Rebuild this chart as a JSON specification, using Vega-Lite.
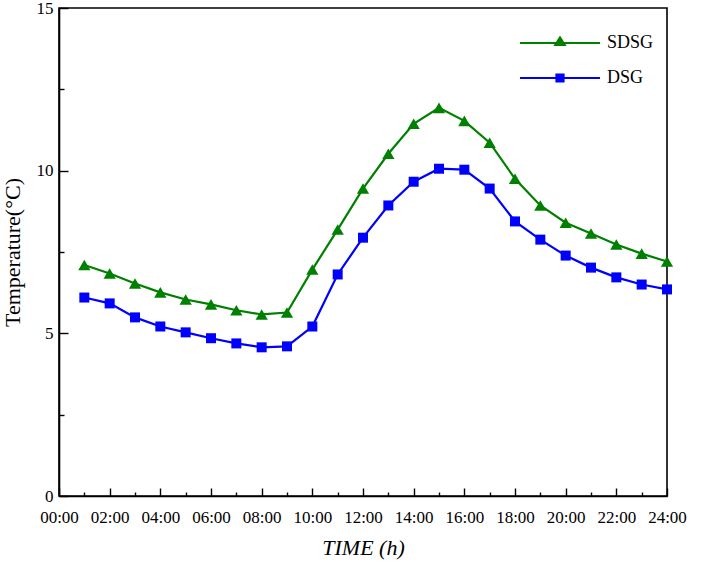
{
  "$schema": "https://vega.github.io/schema/vega-lite/v6.json",
  "width": 608,
  "height": 488,
  "autosize": "none",
  "padding": {"left": 59, "top": 8, "right": 49, "bottom": 69},
  "background": "white",
  "config": {
    "view": {"stroke": "black", "strokeWidth": 1.6},
    "font": "Liberation Serif",
    "axis": {"domainColor": "black", "domainWidth": 1.6, "tickColor": "black", "tickWidth": 1.4, "labelColor": "black", "titleColor": "black", "grid": false, "labelFont": "Liberation Serif", "titleFont": "Liberation Serif", "titleFontWeight": "normal"}
  },
  "data": {"values": [
    {"hour": 1, "series": "SDSG", "temp": 7.10}, {"hour": 2, "series": "SDSG", "temp": 6.84}, {"hour": 3, "series": "SDSG", "temp": 6.53}, {"hour": 4, "series": "SDSG", "temp": 6.26}, {"hour": 5, "series": "SDSG", "temp": 6.04}, {"hour": 6, "series": "SDSG", "temp": 5.89}, {"hour": 7, "series": "SDSG", "temp": 5.71}, {"hour": 8, "series": "SDSG", "temp": 5.58}, {"hour": 9, "series": "SDSG", "temp": 5.64}, {"hour": 10, "series": "SDSG", "temp": 6.96}, {"hour": 11, "series": "SDSG", "temp": 8.19}, {"hour": 12, "series": "SDSG", "temp": 9.45}, {"hour": 13, "series": "SDSG", "temp": 10.52}, {"hour": 14, "series": "SDSG", "temp": 11.44}, {"hour": 15, "series": "SDSG", "temp": 11.93}, {"hour": 16, "series": "SDSG", "temp": 11.53}, {"hour": 17, "series": "SDSG", "temp": 10.86}, {"hour": 18, "series": "SDSG", "temp": 9.75}, {"hour": 19, "series": "SDSG", "temp": 8.93}, {"hour": 20, "series": "SDSG", "temp": 8.40}, {"hour": 21, "series": "SDSG", "temp": 8.07}, {"hour": 22, "series": "SDSG", "temp": 7.73}, {"hour": 23, "series": "SDSG", "temp": 7.45}, {"hour": 24, "series": "SDSG", "temp": 7.21},
    {"hour": 1, "series": "DSG", "temp": 6.10}, {"hour": 2, "series": "DSG", "temp": 5.92}, {"hour": 3, "series": "DSG", "temp": 5.49}, {"hour": 4, "series": "DSG", "temp": 5.21}, {"hour": 5, "series": "DSG", "temp": 5.03}, {"hour": 6, "series": "DSG", "temp": 4.85}, {"hour": 7, "series": "DSG", "temp": 4.69}, {"hour": 8, "series": "DSG", "temp": 4.57}, {"hour": 9, "series": "DSG", "temp": 4.60}, {"hour": 10, "series": "DSG", "temp": 5.21}, {"hour": 11, "series": "DSG", "temp": 6.81}, {"hour": 12, "series": "DSG", "temp": 7.94}, {"hour": 13, "series": "DSG", "temp": 8.93}, {"hour": 14, "series": "DSG", "temp": 9.66}, {"hour": 15, "series": "DSG", "temp": 10.06}, {"hour": 16, "series": "DSG", "temp": 10.03}, {"hour": 17, "series": "DSG", "temp": 9.45}, {"hour": 18, "series": "DSG", "temp": 8.44}, {"hour": 19, "series": "DSG", "temp": 7.88}, {"hour": 20, "series": "DSG", "temp": 7.39}, {"hour": 21, "series": "DSG", "temp": 7.02}, {"hour": 22, "series": "DSG", "temp": 6.72}, {"hour": 23, "series": "DSG", "temp": 6.50}, {"hour": 24, "series": "DSG", "temp": 6.35}
  ]},
  "encoding": {
    "x": {
      "field": "hour", "type": "quantitative",
      "scale": {"domain": [0, 24], "nice": false, "zero": false},
      "axis": {
        "title": "TIME (h)", "titleFontSize": 22, "titleFontStyle": "italic", "titlePadding": 8,
        "values": [0,1,2,3,4,5,6,7,8,9,10,11,12,13,14,15,16,17,18,19,20,21,22,23,24],
        "labelExpr": "datum.value % 2 == 0 ? (datum.value < 10 ? '0' : '') + datum.value + ':00' : ''",
        "labelFontSize": 17, "labelOverlap": false, "labelFlush": false, "labelPadding": 21,
        "tickSize": {"condition": {"test": "datum.value % 2 != 0", "value": -4}, "value": -8}
      }
    },
    "y": {
      "field": "temp", "type": "quantitative",
      "scale": {"domain": [0, 15], "nice": false},
      "axis": {
        "title": "Temperature(°C)", "titleFontSize": 22, "titlePadding": 12,
        "values": [0, 2.5, 5, 7.5, 10, 12.5, 15],
        "labelExpr": "datum.value % 5 == 0 ? datum.label : ''",
        "labelFontSize": 17, "labelOverlap": false, "labelFlush": false, "labelPadding": 15,
        "tickSize": {"condition": {"test": "datum.value % 5 != 0", "value": -5}, "value": -9}
      }
    },
    "color": {
      "field": "series", "type": "nominal",
      "scale": {"domain": ["SDSG", "DSG"], "range": ["#008000", "#0000ff"]},
      "legend": {
        "orient": "none", "legendX": 480, "legendY": 14, "title": null,
        "labelFontSize": 18, "labelColor": "black", "labelFont": "Liberation Serif",
        "symbolSize": 1600, "symbolStrokeWidth": 2, "labelOffset": 26, "rowPadding": 5,
        "symbolType": {"expr": "datum.value == 'SDSG' ? 'M-2,0H2M-0.24,0.1L0,-0.28L0.24,0.1Z' : 'M-2,0H2M-0.18,-0.18H0.18V0.18H-0.18Z'"},
        "encode": {
          "symbols": {"update": {
            "fill": {"signal": "datum.value == 'SDSG' ? '#008000' : '#0000ff'"},
            "stroke": {"signal": "datum.value == 'SDSG' ? '#008000' : '#0000ff'"},
            "opacity": {"value": 1}, "fillOpacity": {"value": 1}, "strokeOpacity": {"value": 1}
          }}
        }
      }
    }
  },
  "layer": [
    {"mark": {"type": "line", "strokeWidth": 2.2}},
    {
      "transform": [{"filter": "datum.series == 'SDSG'"}],
      "mark": {"type": "point", "filled": true, "opacity": 1, "size": 150, "shape": "triangle-up"}
    },
    {
      "transform": [{"filter": "datum.series == 'DSG'"}],
      "mark": {"type": "point", "filled": true, "opacity": 1, "size": 100, "shape": "square"}
    }
  ]
}
